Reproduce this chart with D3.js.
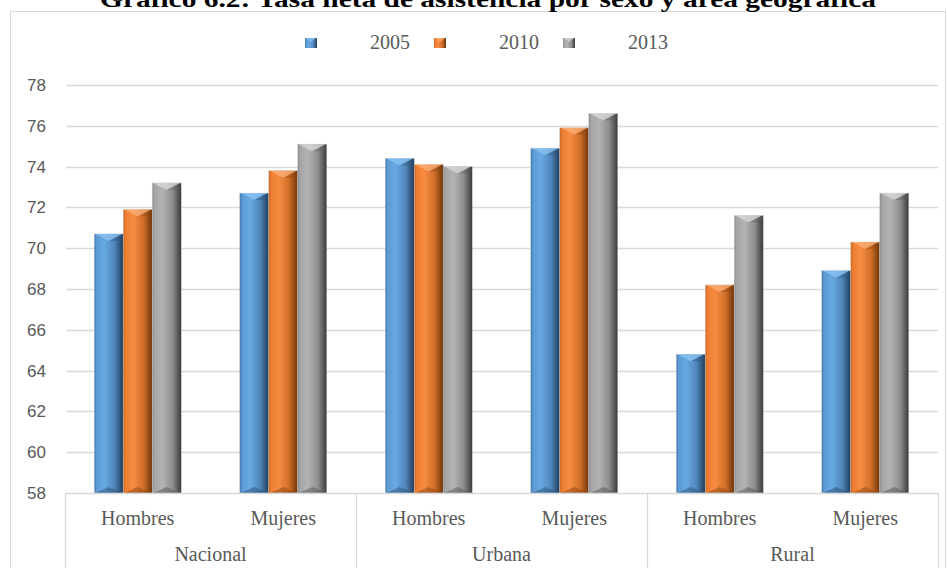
<!DOCTYPE html>
<html lang="es">
<head>
<meta charset="UTF-8">
<title>Tasa neta de asistencia</title>
<script src="https://d3js.org/d3.v7.min.js"></script>
<style>
  body { margin: 0; background: #fff; }
  svg { display: block; }
</style>
</head>
<body>
<div id="chart"></div>
<script>
// datos
var areas = ["Nacional", "Urbana", "Rural"];
var sexos = ["Hombres", "Mujeres"];
var anios = ["2005", "2010", "2013"];
var v2005 = [70.7, 72.7, 74.4, 74.9, 64.8, 68.9];
var v2010 = [71.9, 73.8, 74.1, 75.9, 68.2, 70.3];
var v2013 = [73.2, 75.1, 74.0, 76.6, 71.6, 72.7];
var yTicks = [58, 60, 62, 64, 66, 68, 70, 72, 74, 76, 78];

var width = 947, height = 568;
var series = [v2005, v2010, v2013];

// tabla plana: una fila por barra
var cats = [];
areas.forEach(function (a) { sexos.forEach(function (s) { cats.push(a + "|" + s); }); });
var rows = [];
series.forEach(function (vals, si) {
  vals.forEach(function (v, ci) { rows.push({ cat: cats[ci], anio: anios[si], value: v }); });
});

var svg = d3.select("#chart").append("svg")
  .attr("width", width).attr("height", height);

var colors = {
  "2005": ["#3f73a6", "#5b9bd5", "#69a9e3", "#4f86bb", "#203c5a", "#8cc4f4", "#2b4f74"],
  "2010": ["#c8651f", "#ed7d31", "#f68c42", "#d06e28", "#6e3408", "#fbb078", "#8a4412"],
  "2013": ["#8a8a8a", "#a5a5a5", "#b3b3b3", "#8e8e8e", "#393939", "#d9d9d9", "#555555"]
};

var defs = svg.append("defs");
anios.forEach(function (a) {
  var c = colors[a];
  var g = defs.append("linearGradient").attr("id", "g" + a)
    .attr("x1", "0%").attr("x2", "100%").attr("y1", "0%").attr("y2", "0%");
  [[0, c[0]], [0.08, c[1]], [0.35, c[2]], [0.7, c[3]], [1, c[4]]].forEach(function (s) {
    g.append("stop").attr("offset", s[0]).attr("stop-color", s[1]);
  });
});

// marco exterior
svg.append("rect")
  .attr("x", 10.5).attr("y", 11.5).attr("width", 935).attr("height", 570)
  .attr("fill", "none").attr("stroke", "#d9d9d9");

svg.append("text")
  .attr("x", 488).attr("y", 7)
  .attr("text-anchor", "middle")
  .attr("textLength", 776).attr("lengthAdjust", "spacingAndGlyphs")
  .style("font-family", "'Liberation Serif', 'Times New Roman', serif")
  .style("font-weight", "bold").style("font-size", "24px")
  .text("Gráfico 6.2: Tasa neta de asistencia por sexo y área geográfica");

var x = d3.scaleBand().domain(cats).range([65, 938]);
var xs = d3.scaleBand().domain(anios).range([0, 87]);
var y = d3.scaleLinear().domain([58, 78]).range([493, 85]);

// rejilla
svg.append("g").selectAll("line").data(yTicks.slice(1)).enter().append("line")
  .attr("x1", 66).attr("x2", 938)
  .attr("y1", function (d) { return Math.round(y(d)) + 0.5; })
  .attr("y2", function (d) { return Math.round(y(d)) + 0.5; })
  .attr("stroke", "#d9d9d9").attr("stroke-width", 1.3);

svg.append("g").selectAll("text").data(yTicks).enter().append("text")
  .attr("x", 46).attr("y", function (d) { return y(d) + 6; })
  .attr("text-anchor", "end")
  .style("font-family", "'Liberation Sans', Arial, sans-serif")
  .style("font-size", "17px").attr("fill", "#595959")
  .text(function (d) { return d; });

// barras
var bars = svg.append("g").selectAll("g").data(rows).enter().append("g")
  .attr("transform", function (d) {
    return "translate(" + (x(d.cat) + (x.bandwidth() - 87) / 2 + xs(d.anio)) + ",0)";
  });

var bw = xs.bandwidth();
bars.append("rect")
  .attr("x", 0).attr("width", bw)
  .attr("y", function (d) { return y(d.value); })
  .attr("height", function (d) { return y(58) - y(d.value); })
  .attr("fill", function (d) { return "url(#g" + d.anio + ")"; })
  .attr("stroke", "#c8c8c8").attr("stroke-width", 0.6).attr("stroke-opacity", 0.7);

// bisel superior
bars.append("path")
  .attr("d", function (d) {
    var t = y(d.value);
    return "M1," + t + "L" + (bw - 1) + "," + t + "L" + (bw / 2) + "," + (t + 7) + "Z";
  })
  .attr("fill", function (d) { return colors[d.anio][5]; }).attr("opacity", 0.75);
bars.append("path")
  .attr("d", function (d) {
    var t = y(d.value);
    return "M" + (bw / 2) + "," + (t + 7) + "L" + (bw - 1) + "," + t + "L" + (bw - 1) + "," + (t + 7) + "Z";
  })
  .attr("fill", function (d) { return colors[d.anio][6]; }).attr("opacity", 0.35);

// bisel inferior
bars.append("path")
  .attr("d", function (d) {
    var b = y(58);
    return "M1," + b + "L" + (bw - 1) + "," + b + "L" + (bw / 2) + "," + (b - 6) + "Z";
  })
  .attr("fill", function (d) { return colors[d.anio][6]; }).attr("opacity", 0.5);

// eje x de dos niveles
var ax = svg.append("g").attr("stroke", "#d9d9d9").attr("stroke-width", 1.3);
ax.append("line").attr("x1", 66).attr("x2", 938).attr("y1", 493.5).attr("y2", 493.5);
var seps = areas.map(function (a) { return x(a + "|" + sexos[0]); }).concat([938]);
ax.selectAll("line.sep").data(seps).enter().append("line").attr("class", "sep")
  .attr("x1", function (d) { return Math.round(d) + 0.5; })
  .attr("x2", function (d) { return Math.round(d) + 0.5; })
  .attr("y1", 493).attr("y2", 568);

var serif = "'Liberation Serif', 'Times New Roman', serif";
svg.append("g").selectAll("text").data(cats).enter().append("text")
  .attr("x", function (d) { return x(d) + x.bandwidth() / 2; })
  .attr("y", 525)
  .attr("text-anchor", "middle")
  .style("font-family", serif).style("font-size", "20px").attr("fill", "#595959")
  .text(function (d) { return d.split("|")[1]; });

svg.append("g").selectAll("text").data(areas).enter().append("text")
  .attr("x", function (d) { return x(d + "|" + sexos[0]) + x.bandwidth(); })
  .attr("y", 561)
  .attr("text-anchor", "middle")
  .style("font-family", serif).style("font-size", "20px").attr("fill", "#595959")
  .text(function (d) { return d; });

// leyenda
var leg = svg.append("g").selectAll("g").data(anios).enter().append("g")
  .attr("transform", function (d, i) { return "translate(" + (305 + i * 129) + ",38)"; });
leg.append("rect").attr("width", 12).attr("height", 10)
  .attr("fill", function (d) { return "url(#g" + d + ")"; });
leg.append("path").attr("d", "M1,0L11,0L6,4Z")
  .attr("fill", function (d) { return colors[d][5]; }).attr("opacity", 0.7);
leg.append("text").attr("x", 65).attr("y", 11)
  .style("font-family", serif).style("font-size", "20px").attr("fill", "#595959")
  .text(function (d) { return d; });
</script>
</body>
</html>
